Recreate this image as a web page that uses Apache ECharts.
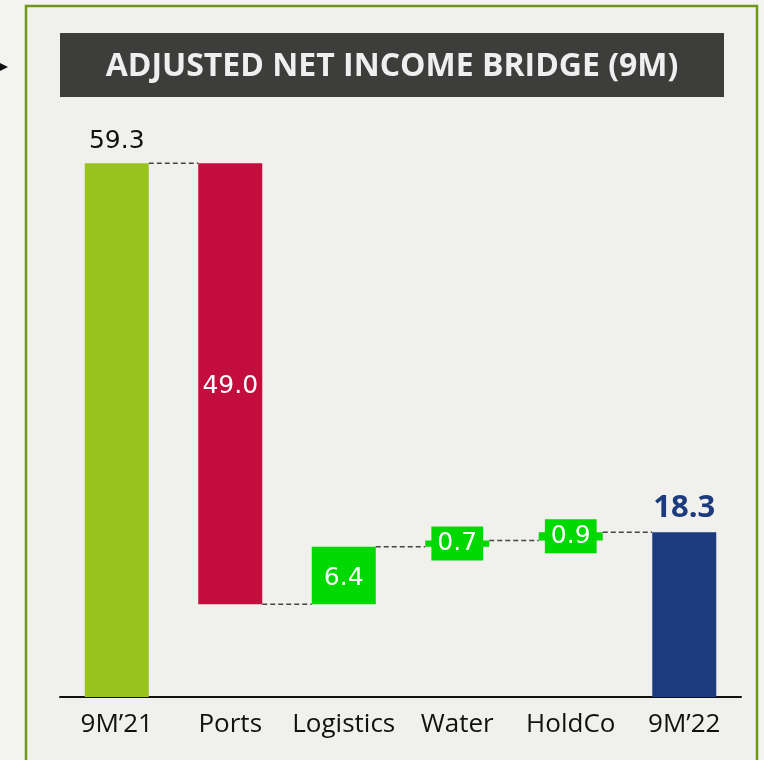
<!DOCTYPE html>
<html>
<head>
<meta charset="utf-8">
<script src="https://cdn.jsdelivr.net/npm/echarts@6/dist/echarts.min.js"></script>
<style>
    html, body { margin: 0; padding: 0; background: #f3f3f2; }
    #main { width: 764px; height: 760px; }
</style>
</head>
<body>
<div id="main"></div>
<script>
// bridge data
var categories = ['9M\u201921', 'Ports', 'Logistics', 'Water', 'HoldCo', '9M\u201922'];
var changes = [59.3, -49.0, 6.4, 0.7, 0.9, 18.3];   // first and last are totals
var barColors = ['#97c21f', '#c30d3d', '#00d900', '#00d900', '#00d900', '#1c3b7f'];

var BAR_W = 64;

// base / height of every floating bar
var baseData = [], barData = [], stepData = [];
var run = 0;
for (var i = 0; i < changes.length; i++) {
    var v = changes[i];
    if (i === 0 || i === changes.length - 1) {
        baseData.push(0);
        barData.push(v);
        run = v;
    } else {
        baseData.push(v < 0 ? run + v : run);
        barData.push(Math.abs(v));
        run = Math.round((run + v) * 10) / 10;
    }
    if (i < changes.length - 1) stepData.push([i, run]);
}

function labelFor(i) {
    var numFont = { fontFamily: 'DejaVu Sans', fontSize: 25, color: '#fff' };
    if (i === 0) {
        return { show: true, position: 'top', distance: 9, fontFamily: 'DejaVu Sans', fontSize: 25, color: '#111' };
    }
    if (i === changes.length - 1) {
        return { show: true, position: 'top', distance: 9, fontFamily: 'Open Sans', fontWeight: 'bold', fontSize: 31, color: '#1c3b7f' };
    }
    if (barData[i] < 2) {
        // tiny bars get a boxed label like the slide
        return Object.assign({ show: true, position: 'inside', backgroundColor: '#00d900', padding: [2, 6], lineHeight: 30 }, numFont);
    }
    return Object.assign({ show: true, position: 'inside', offset: [0, 3] }, numFont);
}

var chart = echarts.init(document.getElementById('main'));

var option = {
    backgroundColor: '#f3f3f2',
    animation: false,
    graphic: [
        {
            type: 'rect', z: -10,
            shape: { x: 26, y: 6, width: 731, height: 800 },
            style: { fill: '#f0f0ec', stroke: '#6e9619', lineWidth: 2.5 }
        },
        {
            type: 'polygon', z: -10,
            shape: { points: [[0, 63], [8, 67], [0, 71]] },
            style: { fill: '#111' }
        },
        {
            type: 'rect', z: -5,
            shape: { x: 60, y: 33, width: 664, height: 64 },
            style: { fill: '#3d3d3b' }
        },
        {
            type: 'text', z: -4,
            x: 392, y: 67,
            style: {
                text: 'ADJUSTED NET INCOME BRIDGE (9M)',
                fill: '#efefef',
                font: 'bold 32px "Open Sans"',
                textAlign: 'center',
                textVerticalAlign: 'middle'
            }
        }
    ],
    grid: {
        left: 60,
        right: 23,
        top: 121,
        bottom: 63
    },
    xAxis: {
        type: 'category',
        data: categories,
        axisTick: { show: false },
        axisLine: {
            show: true,
            lineStyle: { color: '#111', width: 2 }
        },
        axisLabel: {
            interval: 0,
            margin: 15,
            color: '#111',
            fontFamily: 'Open Sans',
            fontSize: 26
        }
    },
    yAxis: {
        type: 'value',
        min: 0,
        max: 64,
        show: false,
        splitLine: { show: false }
    },
    series: [
        {
            name: 'base',
            type: 'bar',
            stack: 'bridge',
            barWidth: BAR_W,
            itemStyle: { color: 'transparent' },
            emphasis: { disabled: true },
            data: baseData
        },
        {
            name: 'value',
            type: 'bar',
            stack: 'bridge',
            barWidth: BAR_W,
            data: barData.map(function (v, i) {
                return {
                    value: v,
                    itemStyle: { color: barColors[i] },
                    label: labelFor(i)
                };
            }),
            label: {
                formatter: function (p) {
                    return p.value.toFixed(1);
                }
            }
        },
        {
            // dashed connectors between neighbouring bars
            name: 'steps',
            type: 'custom',
            z: 1,
            data: stepData,
            renderItem: function (params, api) {
                var from = api.coord([api.value(0), api.value(1)]);
                var to = api.coord([api.value(0) + 1, api.value(1)]);
                return {
                    type: 'line',
                    shape: { x1: from[0] + BAR_W / 2, y1: from[1], x2: to[0] - BAR_W / 2, y2: to[1] },
                    style: { stroke: '#444', lineWidth: 1.5, lineDash: [5, 3] }
                };
            }
        }
    ]
};

chart.setOption(option);
</script>
</body>
</html>
